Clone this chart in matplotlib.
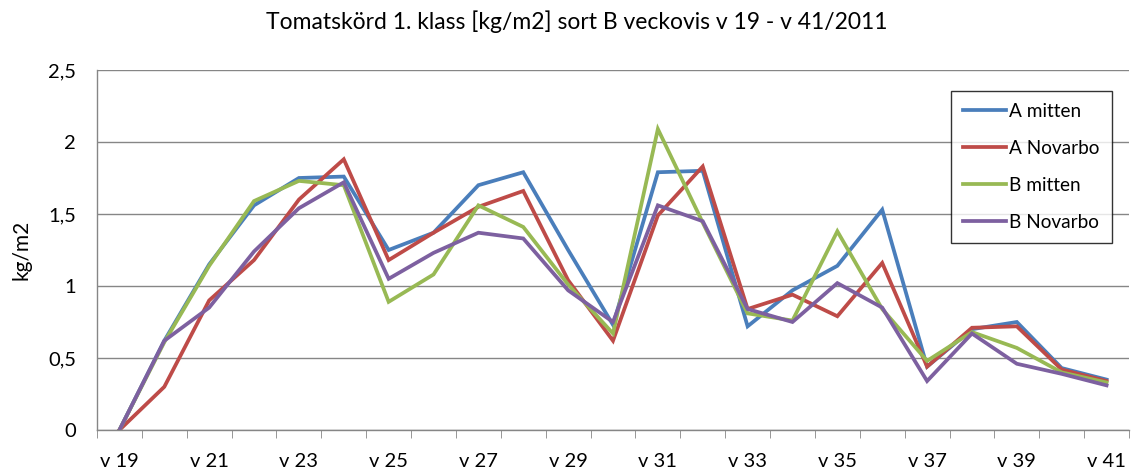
import matplotlib
matplotlib.use("Agg")
import matplotlib.pyplot as plt

plt.rcParams['font.family'] = ['Lato', 'DejaVu Sans']

weeks = list(range(19, 42))
a_mitten = [0.0, 0.62, 1.15, 1.56, 1.75, 1.76, 1.25, 1.37, 1.70, 1.79, 1.25, 0.73,
            1.79, 1.80, 0.72, 0.97, 1.14, 1.53, 0.44, 0.70, 0.75, 0.43, 0.35]
a_novarbo = [0.0, 0.30, 0.90, 1.18, 1.60, 1.88, 1.18, 1.37, 1.55, 1.66, 1.04, 0.62,
             1.49, 1.83, 0.84, 0.94, 0.79, 1.16, 0.44, 0.71, 0.72, 0.42, 0.34]
b_mitten = [0.0, 0.61, 1.14, 1.59, 1.73, 1.70, 0.89, 1.08, 1.56, 1.41, 1.01, 0.67,
            2.09, 1.44, 0.81, 0.76, 1.38, 0.84, 0.48, 0.68, 0.57, 0.40, 0.33]
b_novarbo = [0.0, 0.62, 0.85, 1.24, 1.54, 1.72, 1.05, 1.23, 1.37, 1.33, 0.97, 0.75,
             1.56, 1.45, 0.84, 0.75, 1.02, 0.85, 0.34, 0.67, 0.46, 0.39, 0.31]

series = [("A mitten", a_mitten, "#4a7ebb"),
          ("A Novarbo", a_novarbo, "#be4b48"),
          ("B mitten", b_mitten, "#98b954"),
          ("B Novarbo", b_novarbo, "#7d60a0")]

W, H = 1131, 471
fig = plt.figure(figsize=(W / 100, H / 100), dpi=100)
ax = fig.add_axes([97 / W, 1 - 430 / H, (1129 - 97) / W, (430 - 70) / H])

x = list(range(len(weeks)))
for name, vals, col in series:
    ax.plot(x, vals, color=col, lw=2.7, label=name, solid_joinstyle='miter')

ax.set_xlim(-0.5, len(weeks) - 0.5)
ax.set_ylim(0, 2.5)
ax.set_yticks([0, 0.5, 1, 1.5, 2, 2.5])
ax.set_yticklabels(["0", "0,5", "1", "1,5", "2", "2,5"])
ax.set_xticks(x[::2])
ax.set_xticklabels(["v %d" % w for w in weeks[::2]])
# tick marks sit between the weeks, labels on every other week
ax.set_xticks([i - 0.5 for i in range(len(weeks) + 1)], minor=True)
ax.tick_params(axis='x', which='major', length=0, pad=16.5, labelsize=14.5)
ax.tick_params(axis='x', which='minor', length=6, color='#868686', direction='out')
ax.tick_params(axis='y', length=0, pad=15, labelsize=14.5)
ax.grid(axis='y', color='#868686', lw=1)
ax.set_axisbelow(True)
for s in ['top', 'right']:
    ax.spines[s].set_visible(False)
for s in ['left', 'bottom']:
    ax.spines[s].set_color('#868686')
    ax.spines[s].set_linewidth(1)

ax.set_ylabel("kg/m2", fontsize=15, labelpad=12)
fig.text(577 / W, 1 - 22 / H, "Tomatskörd 1. klass [kg/m2] sort B veckovis v 19 - v 41/2011",
         ha='center', va='center', fontsize=16.5)

leg = ax.legend(loc='upper left', bbox_to_anchor=(951 / W, 1 - 91 / H),
                bbox_transform=fig.transFigure, fontsize=13.7, frameon=True,
                fancybox=False, edgecolor='black', handlelength=2.25,
                handletextpad=0.2, labelspacing=1.05, borderpad=0.62, borderaxespad=0)
leg.get_frame().set_linewidth(1)

fig.savefig("out.png", dpi=100)
